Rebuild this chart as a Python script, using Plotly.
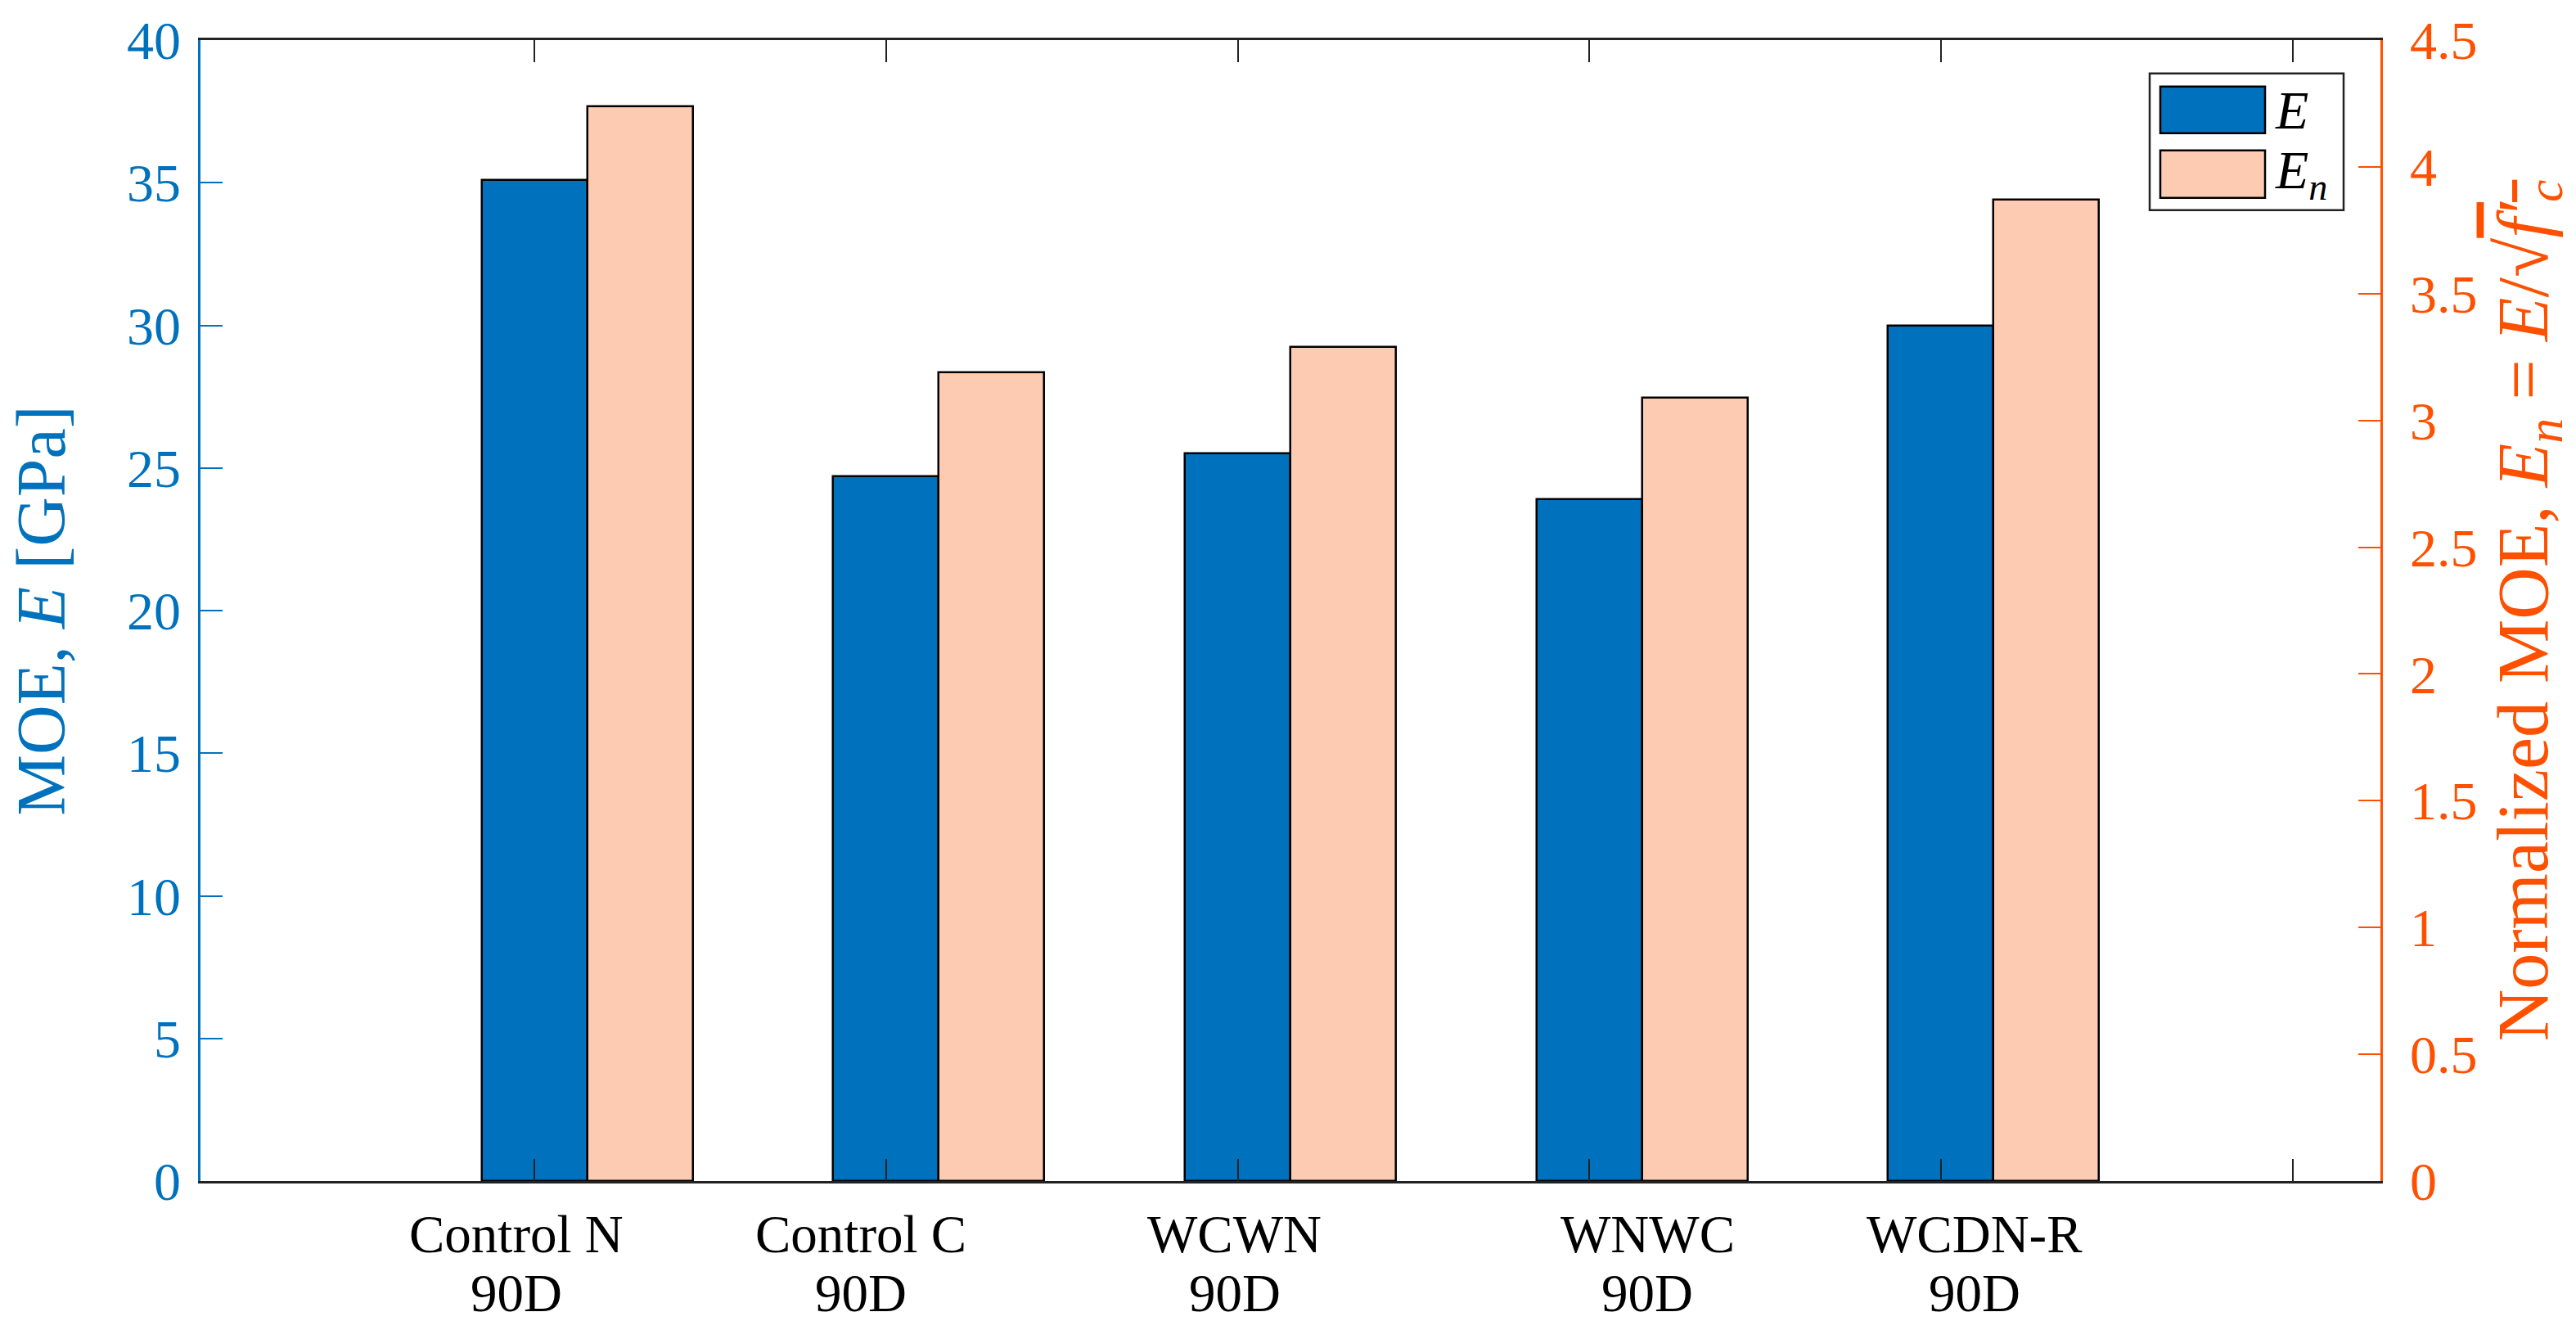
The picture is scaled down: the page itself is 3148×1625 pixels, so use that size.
import plotly.graph_objects as go

# ---------------- data ----------------
categories = ["Control N", "Control C", "WCWN", "WNWC", "WCDN-R"]
ages = ["90D", "90D", "90D", "90D", "90D"]
E_values = [35.1, 24.7, 25.5, 23.9, 30.0]          # GPa (left axis)
En_values = [4.24, 3.19, 3.29, 3.09, 3.87]         # normalized (right axis)
x_index = [1, 2, 3, 4, 5]
x_ticks = [1, 2, 3, 4, 5, 6]
y1_ticks = [0, 5, 10, 15, 20, 25, 30, 35, 40]
y2_ticks = [0, 0.5, 1, 1.5, 2, 2.5, 3, 3.5, 4, 4.5]

# ---------------- style ----------------
BLUE = "#0072BD"
PEACH = "#FDCBB2"
ORANGE = "#FF5000"
FONT = "Liberation Serif"
W, H = 3148, 1625
L, R, T, B = 245, 2909, 49.3, 1443.3      # plot area in pixels
BAR_W = 0.3
label_x_pos = [0.948, 1.928, 2.991, 4.165, 5.096]   # label centres (as in original)


def px2paper_x(px):
    return (px - L) / (R - L)


def px2paper_y(py):
    return (B - py) / (B - T)


fig = go.Figure()
fig.add_trace(go.Bar(
    x=x_index, y=E_values, width=BAR_W, offset=-BAR_W / 2,
    marker=dict(color=BLUE, line=dict(color="black", width=2.5)),
    name="E", yaxis="y", showlegend=False))
fig.add_trace(go.Bar(
    x=x_index, y=En_values, width=BAR_W, offset=BAR_W / 2,
    marker=dict(color=PEACH, line=dict(color="black", width=2.5)),
    name="En", yaxis="y2", showlegend=False))

annotations = []
shapes = []
# category labels (two lines)
for xc, cat, age in zip(label_x_pos, categories, ages):
    annotations.append(dict(x=xc, xref="x", y=px2paper_y(1508), yref="paper",
                            text=cat, showarrow=False, xanchor="center", yanchor="middle",
                            font=dict(family=FONT, size=65, color="black")))
    annotations.append(dict(x=xc, xref="x", y=px2paper_y(1580), yref="paper",
                            text=age, showarrow=False, xanchor="center", yanchor="middle",
                            font=dict(family=FONT, size=65, color="black")))

# legend (drawn as in original: large swatches inside a box)
shapes.append(dict(type="rect", xref="paper", yref="paper",
                   x0=px2paper_x(2627), x1=px2paper_x(2864),
                   y0=px2paper_y(257), y1=px2paper_y(90),
                   line=dict(color="#222222", width=2.5), fillcolor="white", layer="above"))
legend_items = [(BLUE, "<i>E</i>", 106, 163), (PEACH, "<i>E<sub>n</sub></i>", 184, 242)]
for col, txt, ya, yb in legend_items:
    shapes.append(dict(type="rect", xref="paper", yref="paper",
                       x0=px2paper_x(2640), x1=px2paper_x(2768),
                       y0=px2paper_y(yb), y1=px2paper_y(ya),
                       line=dict(color="black", width=2.5), fillcolor=col, layer="above"))
    annotations.append(dict(x=px2paper_x(2778), xref="paper", y=px2paper_y((ya + yb) / 2),
                            yref="paper", text=txt, showarrow=False,
                            xanchor="left", yanchor="middle",
                            font=dict(family=FONT, size=66, color="black")))

fig.update_layout(
    width=W, height=H,
    margin=dict(l=L, r=W - R, t=T, b=H - B, pad=0),
    paper_bgcolor="white", plot_bgcolor="white",
    barmode="overlay", bargap=0,
    font=dict(family=FONT, size=65, color="black"),
    showlegend=False,
    xaxis=dict(range=[0.05, 6.25], tickvals=x_ticks, showticklabels=False,
               ticks="inside", ticklen=27, tickwidth=2, tickcolor="#222222",
               showline=True, linecolor="#222222", linewidth=2.5, mirror="ticks",
               showgrid=False, zeroline=False),
    yaxis=dict(range=[0, 40], tickvals=y1_ticks, ticks="inside", ticklen=27, tickwidth=2,
               tickcolor=BLUE, showline=True, linecolor=BLUE, linewidth=2.5,
               tickfont=dict(family=FONT, size=66, color=BLUE), ticklabelstandoff=8,
               showgrid=False, zeroline=False,
               title=dict(text="MOE, <i>E</i> [GPa]", standoff=48,
                          font=dict(family=FONT, size=84, color=BLUE))),
    yaxis2=dict(range=[0, 4.5], tickvals=y2_ticks, overlaying="y", side="right",
                ticks="inside", ticklen=27, tickwidth=2, tickcolor=ORANGE,
                showline=True, linecolor=ORANGE, linewidth=2.5,
                tickfont=dict(family=FONT, size=66, color=ORANGE), ticklabelstandoff=20,
                showgrid=False, zeroline=False,
                title=dict(text="Normalized MOE, <i>E<sub>n</sub></i> = <i>E</i>/√"
                                "<span style='text-decoration:overline'><i>f′<sub>c</sub></i></span>",
                           standoff=25, font=dict(family=FONT, size=88, color=ORANGE))),
    annotations=annotations,
    shapes=shapes,
)

fig.write_html("out.html", config={"displayModeBar": False},
               post_script="document.body.style.margin='0';")
